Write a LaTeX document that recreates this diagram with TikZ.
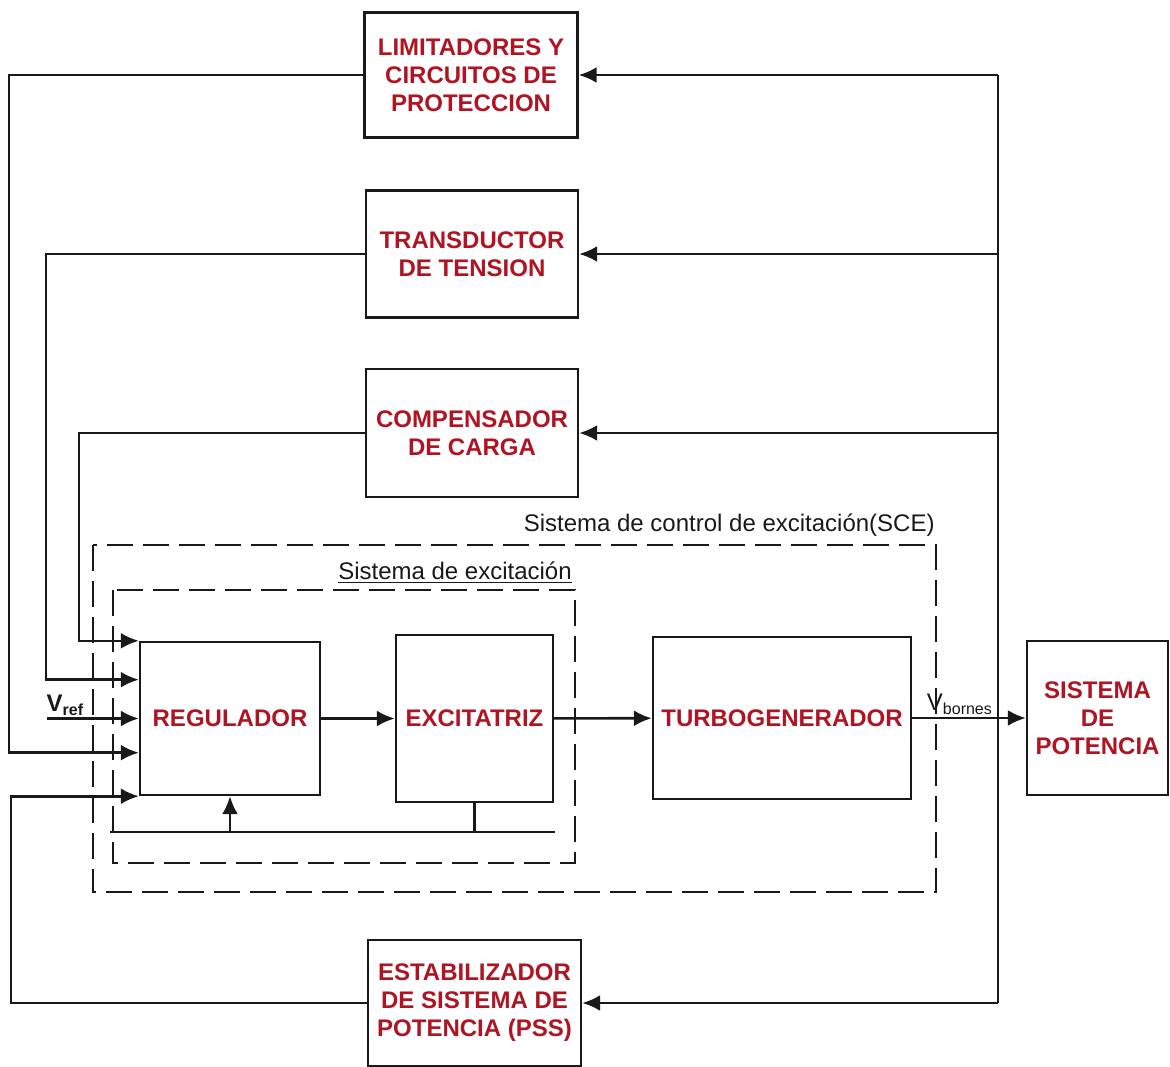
\documentclass[tikz,border=0pt]{standalone}
\usepackage{fontspec}
\setmainfont{Liberation Sans}
\usepackage{xcolor}
\usepackage{tikz}
\usetikzlibrary{arrows.meta,positioning,calc}
\definecolor{BlockRed}{RGB}{176,20,34}
\definecolor{LineBlack}{RGB}{25,25,25}

\begin{document}
\begin{tikzpicture}[
    x=0.5pt,y=-0.5pt,
    block/.style={draw=LineBlack, line width=1.2pt, inner sep=0pt, align=center, text=BlockRed, font=\fontsize{12}{14}\selectfont\bfseries},
    arrow/.style={-{Latex[length=9pt,width=8pt]}, line width=1.3pt, draw=LineBlack},
    fb/.style={line width=1.3pt, draw=LineBlack},
    frame/.style={line width=1.1pt, draw=LineBlack, dash pattern=on 13pt off 5pt},
    note/.style={font=\fontsize{12}{14}\selectfont, text=LineBlack, inner sep=0pt}
  ]
    \useasboundingbox (0,0) rectangle (1170,1066);
    % feedback blocks
    \node[block, minimum width=106.5pt, minimum height=62.5pt] (lim) at (471,75) {LIMITADORES Y\\CIRCUITOS DE\\PROTECCION};
    \node[block, minimum width=106pt, minimum height=63.5pt] (trans) at (472,254) {TRANSDUCTOR\\DE TENSION};
    \node[block, minimum width=106pt, minimum height=64pt] (comp) at (472,433) {COMPENSADOR\\DE CARGA};
    \node[block, minimum width=106.5pt, minimum height=63pt] (pss) at (474.5,1003) {ESTABILIZADOR\\DE SISTEMA DE\\POTENCIA (PSS)};
    % main chain
    \node[block, minimum width=90pt, minimum height=76.5pt] (reg) at (230,718.5) {REGULADOR};
    \node[block, minimum width=78.5pt, minimum height=83.5pt] (exc) at (474.5,718.5) {EXCITATRIZ};
    \node[block, minimum width=129pt, minimum height=81pt] (turbo) at (782,718) {TURBOGENERADOR};
    \node[block, minimum width=70.5pt, minimum height=77pt] (sist) at (1097.5,718) {SISTEMA\\DE\\POTENCIA};
    \draw[arrow] (reg) -- (exc);
    \draw[arrow] (exc) -- (turbo);
    \draw[arrow] (turbo) -- (sist) node[pos=0.42, above=1pt, note] {V\textsubscript{bornes}};
    % dashed frames
    \draw[frame] (93,545) rectangle (936,892);
    \draw[frame] (113,590) rectangle (575,863);
    \node[note, anchor=south east] at (935,537) {Sistema de control de excitación(SCE)};
    \node[note] at (455,573) {\underline{Sistema de excitación}};
    % measurement bus
    \coordinate (bus) at (998,75);
    \coordinate (busend) at (998,1003);
    \draw[fb] (bus) -- (busend);
    \foreach \blk in {lim,trans,comp,pss} {\draw[arrow] (\blk.east -| bus) -- (\blk.east);}
    % inputs of the regulator
    \coordinate (in1) at (reg.north west);
    \coordinate (in2) at ($(reg.north west)!0.25!(reg.south west)$);
    \coordinate (in4) at ($(reg.north west)!0.72!(reg.south west)$);
    \coordinate (in5) at (reg.south west);
    \coordinate (vref) at (47,718.5);
    \draw[arrow] (comp.west) -| ($(in1)+(-60,0)$) -- (in1);
    \draw[arrow] (trans.west) -| ($(in2)+(-93,0)$) -- (in2);
    \draw[arrow] (vref) -- (reg.west) node[pos=0.2, above=1pt, note] {\textbf{V\textsubscript{ref}}};
    \draw[arrow] (lim.west) -| ($(in4)+(-130,0)$) -- (in4);
    \draw[arrow] (pss.west) -| ($(in5)+(-128,0)$) -- (in5);
    % inner loop
    \coordinate (loopl) at (110,832);
    \coordinate (loopr) at (555,832);
    \draw[fb] (loopl) -- (loopr);
    \draw[fb] (exc.south) -- (exc.south |- loopl);
    \draw[arrow] (reg.south |- loopl) -- (reg.south);
\end{tikzpicture}
\end{document}
